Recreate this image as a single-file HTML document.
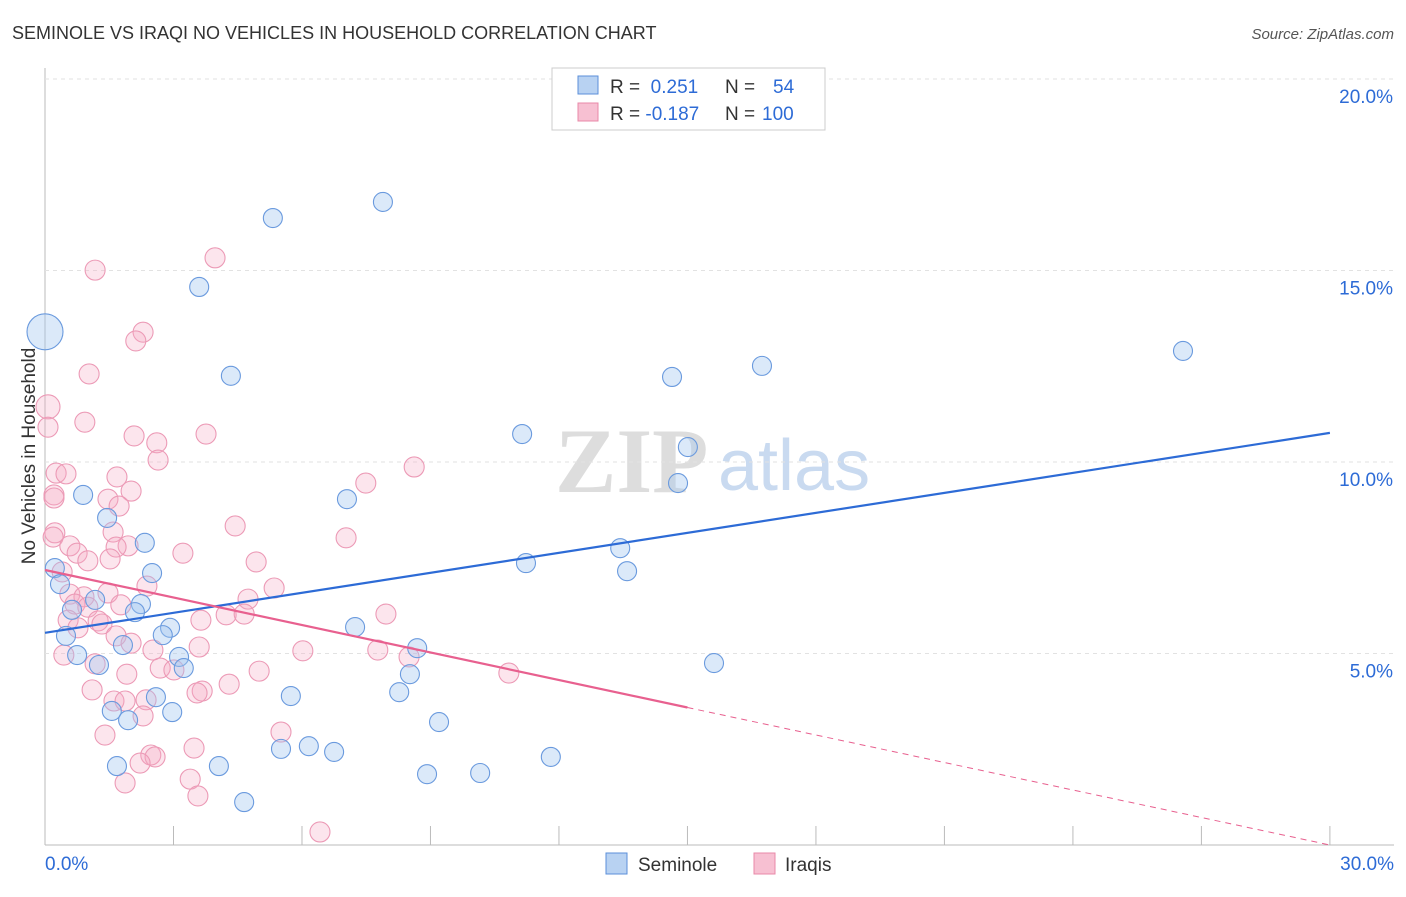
<!DOCTYPE html>
<html><head><meta charset="utf-8"><style>
body{margin:0;background:#fff;font-family:"Liberation Sans",sans-serif;}
</style></head><body>
<svg width="1406" height="892" xmlns="http://www.w3.org/2000/svg" id="c">
<text x="12" y="39" font-size="18" fill="#333">SEMINOLE VS IRAQI NO VEHICLES IN HOUSEHOLD CORRELATION CHART</text>
<text x="1394" y="39" font-size="15" font-style="italic" fill="#555" text-anchor="end">Source: ZipAtlas.com</text>
<text x="35" y="456" font-size="19" fill="#333" text-anchor="middle" transform="rotate(-90 35 456)">No Vehicles in Household</text>
<g><text x="555" y="492" font-size="92" font-family="Liberation Serif,serif" fill="#ddd" font-weight="bold">ZIP</text><text x="718" y="490" font-size="72" fill="#c9daf0">atlas</text></g>
<g id="grid"></g><g id="pts"></g><g id="trend"></g>
<g>
<rect x="552" y="68" width="273" height="62" fill="#fff" stroke="#ccc"/>
<rect x="578" y="76" width="20" height="18" fill="#b8d2f2" stroke="#5b8fd9"/>
<rect x="578" y="103" width="20" height="18" fill="#f7c0d2" stroke="#e889a8"/>
<text x="610" y="93" font-size="19" fill="#333">R = <tspan fill="#2d6bd6">&#160;0.251</tspan><tspan x="725">N = </tspan><tspan x="773" fill="#2d6bd6">54</tspan></text>
<text x="610" y="120" font-size="19" fill="#333">R = <tspan fill="#2d6bd6">-0.187</tspan><tspan x="725">N = </tspan><tspan x="762" fill="#2d6bd6">100</tspan></text>
</g>
<g>
<rect x="606" y="853" width="21" height="21" fill="#b8d2f2" stroke="#5b8fd9"/><text x="638" y="871" font-size="19" fill="#333">Seminole</text>
<rect x="754" y="853" width="21" height="21" fill="#f7c0d2" stroke="#e889a8"/><text x="785" y="871" font-size="19" fill="#333">Iraqis</text>
</g>
</svg>
<script>
const yTicks=[5,10,15,20];
const xTickLabels=["0.0%","30.0%"];
const blueX=[0,5.32,7.89,3.60,4.34,14.64,16.74,26.57,11.14,15.01,14.78,7.05,0.89,1.45,2.33,13.43,11.23,13.59,2.50,0.23,0.35,1.17,0.63,2.24,2.10,2.92,2.75,7.24,0.49,1.82,8.69,0.75,3.13,3.24,1.26,8.52,15.62,5.74,8.27,2.59,1.56,2.97,1.94,9.20,5.51,6.16,6.75,11.81,1.68,4.06,8.92,10.16,4.65];
const blueY=[13.4,16.37,16.79,14.57,12.25,12.22,12.51,12.90,10.73,10.39,9.45,9.03,9.14,8.54,7.89,7.75,7.36,7.15,7.10,7.23,6.81,6.40,6.14,6.29,6.08,5.67,5.48,5.69,5.46,5.22,5.14,4.96,4.91,4.62,4.70,4.46,4.75,3.89,3.99,3.86,3.50,3.47,3.26,3.21,2.51,2.58,2.43,2.30,2.06,2.06,1.85,1.88,1.12];
const pinkX=[1.17,3.97,2.29,2.12,1.03,0.07,0.07,0.93,2.08,2.61,3.76,2.64,8.62,0.26,0.49,1.68,7.49,2.01,0.21,0.21,1.47,1.73,4.44,0.23,0.19,1.59,7.03,0.58,1.94,1.66,0.75,3.22,1.52,1.00,4.93,0.40,2.38,5.35,0.58,1.47,0.91,4.74,0.70,1.77,1.00,4.23,4.65,7.96,0.54,1.24,1.33,3.64,0.77,1.66,2.01,2.52,3.60,6.02,7.77,8.50,0.44,1.17,2.69,3.01,5.00,10.83,1.91,1.10,4.30,3.67,3.55,1.61,1.87,2.36,2.29,5.51,1.40,3.48,2.47,2.57,2.22,3.39,1.87,3.57,6.42];
const pinkY=[15.01,15.33,13.39,13.16,12.30,11.44,10.91,11.04,10.68,10.50,10.73,10.05,9.87,9.71,9.69,9.61,9.45,9.24,9.14,9.06,9.03,8.85,8.33,8.15,8.04,8.17,8.02,7.81,7.81,7.78,7.62,7.62,7.47,7.42,7.39,7.13,6.76,6.71,6.55,6.58,6.48,6.42,6.29,6.27,6.21,6.01,6.03,6.03,5.87,5.85,5.77,5.87,5.67,5.46,5.27,5.09,5.17,5.07,5.09,4.91,4.96,4.73,4.62,4.57,4.54,4.49,4.46,4.05,4.20,4.02,3.97,3.76,3.76,3.79,3.37,2.95,2.87,2.53,2.35,2.30,2.14,1.72,1.62,1.28,0.34];
const blueTrend=[5.54,10.76];
const pinkTrend=[7.18,0.0];
const pinkSolidEnd=15.0;
const X=v=>45+v*42.83, Y=v=>845-v*38.3;
const NS="http://www.w3.org/2000/svg";
function mk(t,a,p){const e=document.createElementNS(NS,t);for(const k in a)e.setAttribute(k,a[k]);p.appendChild(e);return e;}
const grid=document.getElementById('grid');
mk('line',{x1:45,y1:68,x2:45,y2:845,stroke:'#bbb'},grid);
mk('line',{x1:45,y1:845,x2:1394,y2:845,stroke:'#bbb'},grid);
yTicks.forEach(t=>{
 const l=mk('line',{x1:45,y1:Y(t),x2:1394,y2:Y(t),stroke:'#e2e2e2','stroke-dasharray':'4,4'},grid);
 
 
 const tx=mk('text',{x:1393,y:Y(t)+24,'font-size':19,fill:'#2d6bd6','text-anchor':'end'},grid);
 tx.textContent=t.toFixed(1)+'%';
 
 
});
for(let i=1;i<=10;i++){const l=mk('line',{x1:X(i*3),y1:826,x2:X(i*3),y2:845,stroke:'#bbb'},grid);
 
 }
const xl0=mk('text',{x:45,y:870,'font-size':19,fill:'#2d6bd6'},grid);xl0.textContent=xTickLabels[0];


const xl1=mk('text',{x:1394,y:870,'font-size':19,fill:'#2d6bd6','text-anchor':'end'},grid);xl1.textContent=xTickLabels[1];


const pts=document.getElementById('pts');
pinkX.forEach((x,i)=>{const c=mk('circle',{cx:X(x),cy:Y(pinkY[i]),r:i==5?12:10,fill:'rgba(244,170,196,0.3)',stroke:'#ec9ab6','stroke-width':1.1},pts);
 
 });
blueX.forEach((x,i)=>{const c=mk('circle',{cx:X(x),cy:Y(blueY[i]),r:i==0?18:9.5,fill:'rgba(160,196,238,0.38)',stroke:'#6a9ade','stroke-width':1.1},pts);
 
 });
const tr=document.getElementById('trend');
const bt=mk('line',{x1:X(0),y1:Y(blueTrend[0]),x2:X(30),y2:Y(blueTrend[1]),stroke:'#2d6bd6','stroke-width':2.2},tr);


const pv=x=>pinkTrend[0]+(pinkTrend[1]-pinkTrend[0])*x/30;
const pt=mk('line',{x1:X(0),y1:Y(pv(0)),x2:X(pinkSolidEnd),y2:Y(pv(pinkSolidEnd)),stroke:'#e8608f','stroke-width':2.2},tr);


const pd=mk('line',{x1:X(pinkSolidEnd),y1:Y(pv(pinkSolidEnd)),x2:X(30),y2:Y(pv(30)),stroke:'#e8608f','stroke-width':1,'stroke-dasharray':'6,5'},tr);


</script>
</body></html>
